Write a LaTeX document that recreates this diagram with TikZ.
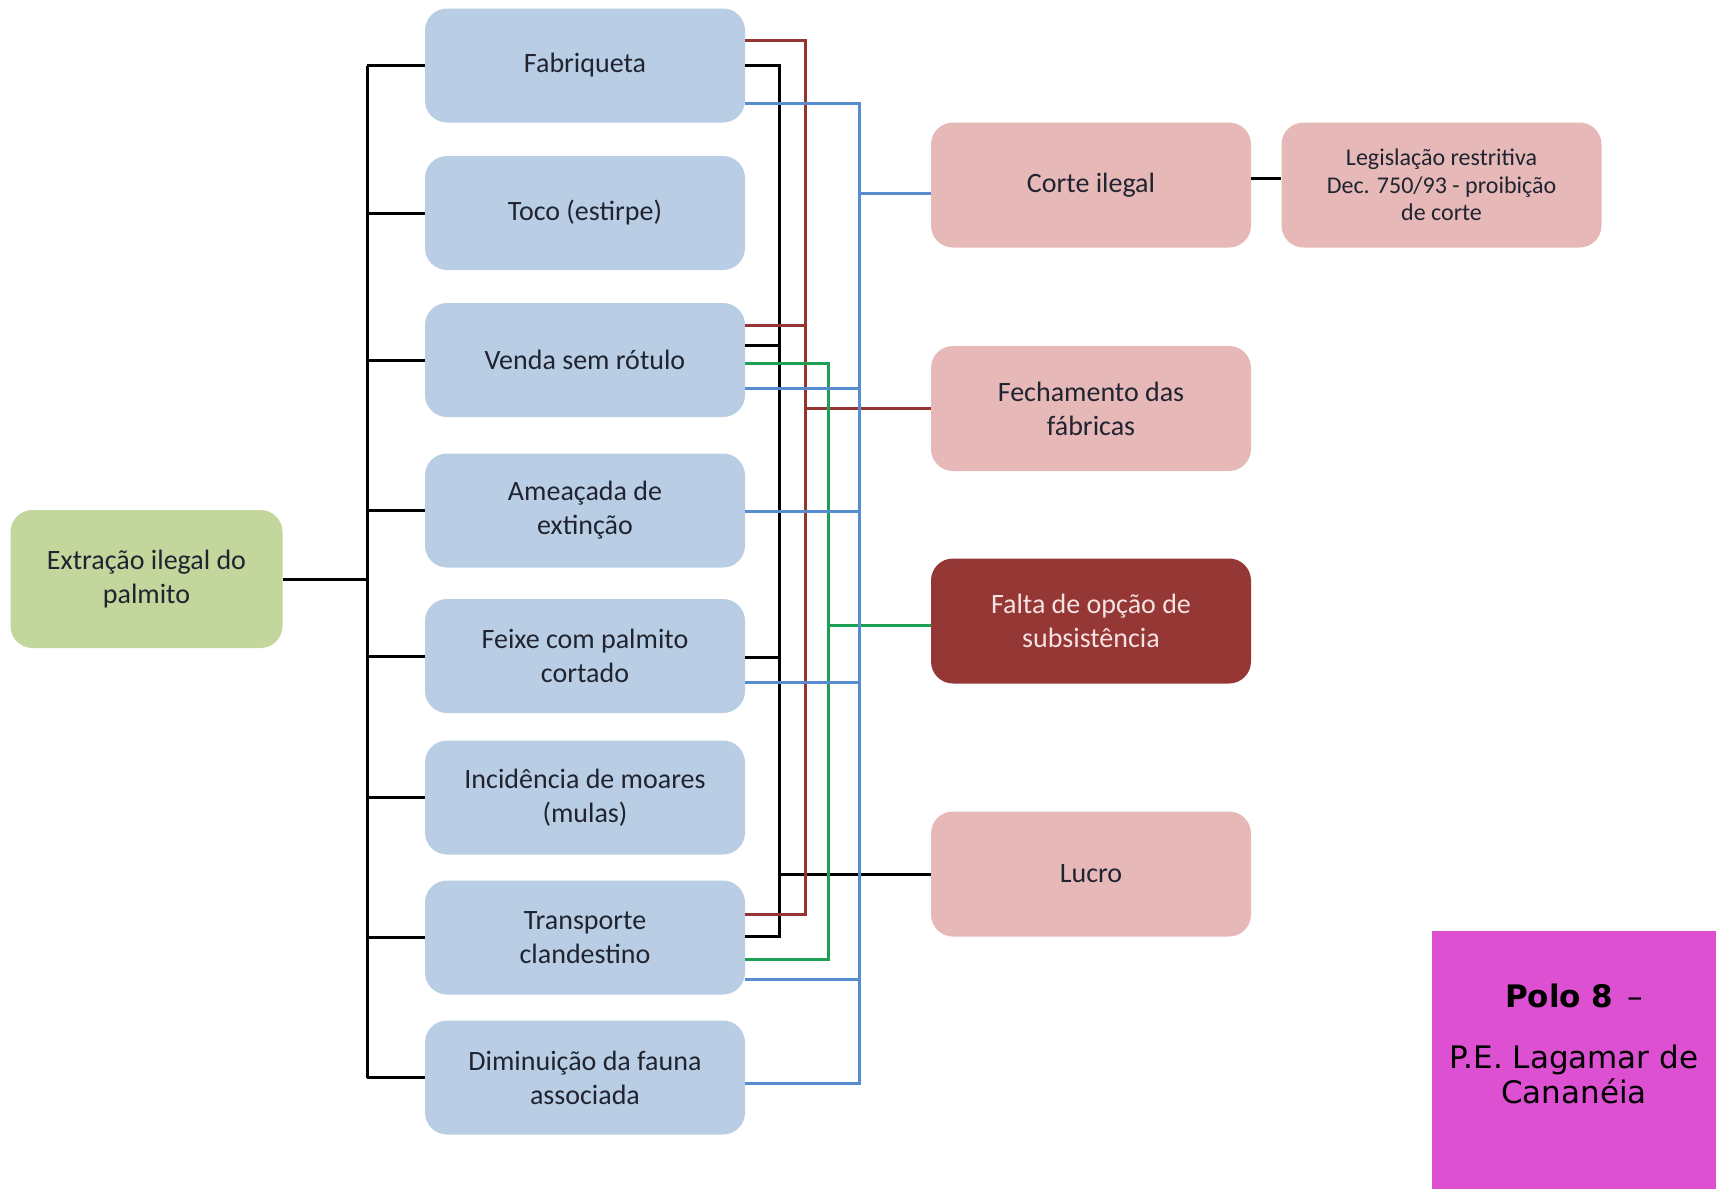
\documentclass[tikz,border=0pt]{standalone}
\usepackage{fontspec}
\setmainfont{Carlito}
\newfontfamily\polofont{DejaVu Sans}
\definecolor{itemblue}{RGB}{185,205,228}
\definecolor{effpink}{RGB}{230,184,183}
\definecolor{rootgreen}{RGB}{195,214,155}
\definecolor{deepred}{RGB}{149,55,53}
\definecolor{polomag}{RGB}{221,80,210}
\definecolor{txtdark}{RGB}{32,36,48}
\definecolor{txtlight}{RGB}{246,226,226}
\definecolor{lnbrown}{RGB}{150,52,50}
\definecolor{lnblue}{RGB}{88,140,208}
\definecolor{lngreen}{RGB}{30,160,84}
\begin{document}
\begin{tikzpicture}[x=1pt,y=-1pt,
  box/.style={rounded corners=22pt, minimum width=320pt, minimum height=114pt,
    inner sep=0pt, align=center, text=txtdark,
    font=\fontsize{28}{34}\selectfont},
  item/.style={box, fill=itemblue},
  effect/.style={box, fill=effpink, minimum height=125pt},
  root/.style={box, fill=rootgreen, minimum width=272pt, minimum height=138pt},
  lnK/.style={draw=black, line width=3pt},
  lnR/.style={draw=lnbrown, line width=3pt},
  lnG/.style={draw=lngreen, line width=3pt},
  lnB/.style={draw=lnblue, line width=3pt},
  polotxt/.style={inner sep=0pt, anchor=base, text=black,
    font=\polofont\fontsize{31}{36}\selectfont}
]
% canvas
\fill[white] (0,0) rectangle (1716,1189);
\useasboundingbox (0,0) rectangle (1716,1189);

% root
\node[root] (ext) at (146.5,579) {Extração ilegal do\\palmito};

% items
\node[item] (fab) at (585,65.5)   {Fabriqueta};
\node[item] (toc) at (585,213)    {Toco (estirpe)};
\node[item] (ven) at (585,360)    {Venda sem rótulo};
\node[item] (ame) at (585,510.5)  {Ameaçada de\\extinção};
\node[item] (fei) at (585,656)    {Feixe com palmito\\cortado};
\node[item] (inc) at (585,797.5)  {Incidência de moares\\(mulas)};
\node[item] (tra) at (585,937.5)  {Transporte\\clandestino};
\node[item] (dim) at (585,1077.5) {Diminuição da fauna\\associada};

% effects
\node[effect] (cor) at (1091,185)   {Corte ilegal};
\node[effect] (fec) at (1091,408.5) {Fechamento das\\fábricas};
\node[effect, fill=deepred, text=txtlight] (fal) at (1091,621) {Falta de opção de\\subsistência};
\node[effect] (luc) at (1091,874)   {Lucro};
\node[effect, font=\fontsize{24}{27.5}\selectfont] (leg) at (1441.5,185)
  {Legislação restritiva\\Dec. 750/93 - proibição\\de corte};

% side panel
\node[fill=polomag, minimum width=284pt, minimum height=258pt, inner sep=0pt,
  anchor=north west] (polo) at (1432,931) {};
\node[polotxt] (polo1) at (1574,1007) {\textbf{Polo 8}\hspace{0.45em}–};
\node[polotxt] (polo2) at (1574,1068) {P.E. Lagamar de};
\node[polotxt] (polo3) at (1574,1103) {Cananéia};

% tree on the left
\coordinate (trunk) at (367,0);
\draw[lnK] (ext.east) -- (trunk |- ext.east);
\draw[lnK] (trunk |- fab.west) -- (trunk |- dim.west);
\foreach \n in {fab,toc,ven,ame,fei,inc,tra,dim}
  \draw[lnK] (trunk |- \n.west) -- (\n.west);

% buses on the right
\coordinate (busK) at (779,0);
\coordinate (busR) at (805,0);
\coordinate (busG) at (828,0);
\coordinate (busB) at (859,0);

% black bus -> Lucro
\draw[lnK] (fab.east |- 0,65) -- (busK |- 0,65) -- (busK |- 0,936) -- (tra.east |- 0,936);
\draw[lnK] (ven.east |- 0,345) -- (busK |- 0,345);
\draw[lnK] (fei.east |- 0,657) -- (busK |- 0,657);
\draw[lnK] (busK |- luc.west) -- (luc.west);

% brown bus -> Fechamento das fábricas
\draw[lnR] (fab.east |- 0,40) -- (busR |- 0,40) -- (busR |- 0,914) -- (tra.east |- 0,914);
\draw[lnR] (ven.east |- 0,325) -- (busR |- 0,325);
\draw[lnR] (busR |- fec.west) -- (fec.west);

% green bus -> Falta de opção de subsistência
\draw[lnG] (ven.east |- 0,363) -- (busG |- 0,363) -- (busG |- 0,959) -- (tra.east |- 0,959);
\draw[lnG] (busG |- 0,625) -- (fal.west |- 0,625);

% blue bus -> Corte ilegal
\draw[lnB] (fab.east |- 0,103) -- (busB |- 0,103) -- (busB |- 0,1083) -- (dim.east |- 0,1083);
\draw[lnB] (ven.east |- 0,388) -- (busB |- 0,388);
\draw[lnB] (ame.east |- 0,511) -- (busB |- 0,511);
\draw[lnB] (fei.east |- 0,682) -- (busB |- 0,682);
\draw[lnB] (tra.east |- 0,979) -- (busB |- 0,979);
\draw[lnB] (busB |- 0,193) -- (cor.west |- 0,193);

% Corte ilegal -- Legislação
\draw[lnK] (cor.east |- 0,178) -- (leg.west |- 0,178);
\end{tikzpicture}
\end{document}
